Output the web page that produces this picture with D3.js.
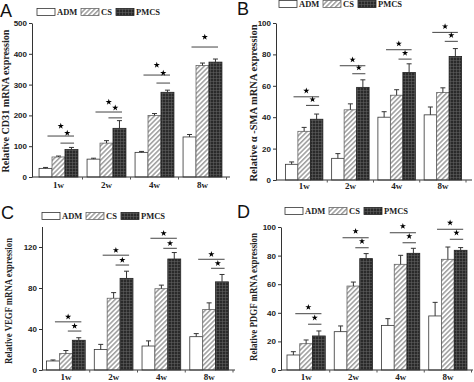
<!DOCTYPE html>
<html>
<head>
<meta charset="utf-8">
<script src="https://cdn.jsdelivr.net/npm/d3@7"></script>
<style>
body { margin: 0; background: #fff; }
</style>
</head>
<body>
<div id="root"></div>
<script>
var weeks = ["1w", "2w", "4w", "8w"];
var groups = ["ADM", "CS", "PMCS"];

// mean / error per group (ADM, CS, PMCS), one value per week
var cd31Mean = [[28, 58, 80, 130], [65, 110, 200, 362], [89, 158, 275, 373]];
var cd31Err  = [[3, 3, 3, 8], [3, 8, 6, 8], [7, 25, 7, 10]];
var smaMean  = [[10, 13.8, 40, 41.5], [31, 44.7, 54, 55.7], [38.7, 59, 68.5, 78.7]];
var smaErr   = [[1.5, 3, 3.5, 5], [2.5, 3.8, 3.5, 3], [3.3, 4.8, 5.5, 5]];
var vegfMean = [[8.8, 20, 23.4, 32.5], [16, 70, 79.3, 59], [29, 89.4, 108.3, 86]];
var vegfErr  = [[1, 5, 5, 3], [3, 5.5, 3.5, 6.5], [2.5, 7, 6.3, 7.2]];
var pdgfMean = [[10.5, 26.8, 31.2, 37.8], [18.4, 58.7, 73.9, 77.4], [23.8, 77.9, 81.6, 83.7]];
var pdgfErr  = [[2.3, 4, 4.7, 9.5], [2.6, 2.8, 6.3, 8.6], [3.5, 3.5, 3.5, 1.9]];

// significance brackets: [week index, from group, to group, height]
var cd31Sig = [[0, 0, 2, 133], [0, 1, 2, 110], [1, 0, 2, 211], [1, 1, 2, 192], [2, 0, 2, 331], [2, 1, 2, 305], [3, 0, 2, 422]];
var smaSig  = [[0, 0, 2, 53], [0, 1, 2, 47.5], [1, 0, 2, 72.8], [1, 1, 2, 67.7], [2, 0, 2, 83], [2, 1, 2, 77], [3, 0, 2, 94], [3, 1, 2, 88.3]];
var vegfSig = [[0, 0, 2, 47], [0, 1, 2, 38], [1, 0, 2, 112], [1, 1, 2, 102.4], [2, 0, 2, 128.5], [2, 1, 2, 118.7], [3, 0, 2, 108], [3, 1, 2, 99.2]];
var pdgfSig = [[0, 0, 2, 39.4], [0, 1, 2, 32], [1, 0, 2, 92.5], [1, 1, 2, 85.5], [2, 0, 2, 96], [2, 1, 2, 89], [3, 0, 2, 98.4], [3, 1, 2, 91.4]];

var cd31Ticks = [0, 100, 200, 300, 400, 500];
var smaTicks  = [0, 20, 40, 60, 80, 100];
var vegfTicks = [0, 40, 80, 120];
var pdgfTicks = [0, 20, 40, 60, 80, 100];

var panels = [
	{letter: "A", title: "Relative CD31 mRNA expression", mean: cd31Mean, err: cd31Err, sig: cd31Sig, ticks: cd31Ticks, max: 500,
	 left: 32, axisEnd: 230, band: [34.5, 226.5], base: 177, top: 23, starGap: 10,
	 letterPos: [0, 17], titleX: 8.5, titleY: 101, titleLen: 143, legendX: 37, legendY: 12, labelY: 188},
	{letter: "B", title: "Relative \u03b1 -SMA mRNA expression", mean: smaMean, err: smaErr, sig: smaSig, ticks: smaTicks, max: 100,
	 left: 276, axisEnd: 472, band: [281, 466], base: 180, top: 23, starGap: 6,
	 letterPos: [237, 15], titleX: 257, titleY: 103, titleLen: 157, legendX: 279, legendY: 4, labelY: 189},
	{letter: "C", title: "Relative VEGF mRNA expression", mean: vegfMean, err: vegfErr, sig: vegfSig, ticks: vegfTicks, max: 140,
	 left: 42, axisEnd: 235, band: [42, 233], base: 370, top: 226.5, starGap: 5,
	 letterPos: [1, 219], titleX: 12, titleY: 301, titleLen: 126, legendX: 42, legendY: 216, labelY: 379.5},
	{letter: "D", title: "Relative PDGF mRNA expression", mean: pdgfMean, err: pdgfErr, sig: pdgfSig, ticks: pdgfTicks, max: 100,
	 left: 281, axisEnd: 473, band: [282.5, 471.5], base: 370, top: 227, starGap: 6.5,
	 letterPos: [237, 218], titleX: 257, titleY: 297, titleLen: 128, legendX: 285, legendY: 211, labelY: 379.5}
];

var svg = d3.select("#root")
	.append("svg")
	.attr("width", 474)
	.attr("height", 382);

// fill patterns
var defs = svg.append("defs");

var hatch = defs.append("pattern")
	.attr("id", "hatch")
	.attr("patternUnits", "userSpaceOnUse")
	.attr("width", 3.4)
	.attr("height", 3.4)
	.attr("patternTransform", "rotate(45)");
hatch.append("rect").attr("width", 3.4).attr("height", 3.4).attr("fill", "#fff");
hatch.append("line")
	.attr("x1", 0.8).attr("y1", 0).attr("x2", 0.8).attr("y2", 3.4)
	.attr("stroke", "#777").attr("stroke-width", 1.1);

var grid = defs.append("pattern")
	.attr("id", "grid")
	.attr("patternUnits", "userSpaceOnUse")
	.attr("width", 3)
	.attr("height", 3);
grid.append("rect").attr("width", 3).attr("height", 3).attr("fill", "#2a2a2a");
grid.append("path")
	.attr("d", "M0 0.5H3M0.5 0V3")
	.attr("stroke", "#666")
	.attr("stroke-width", 0.5);

var fills = ["#fff", "url(#hatch)", "url(#grid)"];
var strokes = ["#333", "#666", "#222"];

var star = d3.symbol().type(d3.symbolStar).size(12);

panels.forEach(function (p) {
	var g = svg.append("g");

	var x = d3.scaleBand().domain(weeks).range(p.band).paddingInner(0).paddingOuter(0);
	var bw = x.bandwidth() * 0.27;
	var gx = function (w, k) { return x(weeks[w]) + (x.bandwidth() - 3 * bw) / 2 + k * bw; };

	var y = d3.scaleLinear().domain([0, p.max]).range([p.base, p.top]);

	// bars
	groups.forEach(function (name, k) {
		g.selectAll(null)
			.data(p.mean[k])
			.enter().append("rect")
			.attr("x", function (d, i) { return gx(i, k); })
			.attr("y", function (d) { return y(d); })
			.attr("width", bw)
			.attr("height", function (d) { return y(0) - y(d); })
			.attr("fill", fills[k])
			.attr("stroke", strokes[k])
			.attr("stroke-width", 0.8);

		// error bars (upper whisker only)
		var eb = g.selectAll(null)
			.data(p.mean[k])
			.enter().append("g")
			.attr("stroke", "#333")
			.attr("stroke-width", 1);
		eb.append("line")
			.attr("x1", function (d, i) { return gx(i, k) + bw / 2; })
			.attr("x2", function (d, i) { return gx(i, k) + bw / 2; })
			.attr("y1", function (d) { return y(d); })
			.attr("y2", function (d, i) { return y(d + p.err[k][i]); });
		eb.append("line")
			.attr("x1", function (d, i) { return gx(i, k) + bw / 2 - 2.5; })
			.attr("x2", function (d, i) { return gx(i, k) + bw / 2 + 2.5; })
			.attr("y1", function (d, i) { return y(d + p.err[k][i]); })
			.attr("y2", function (d, i) { return y(d + p.err[k][i]); });
	});

	// significance lines and stars
	var sx1 = function (s) { return gx(s[0], s[1]) + bw * 0.65; };
	var sx2 = function (s) { return gx(s[0], s[2]) + bw * 0.7; };
	g.selectAll(null)
		.data(p.sig)
		.enter().append("line")
		.attr("x1", sx1)
		.attr("x2", sx2)
		.attr("y1", function (s) { return y(s[3]); })
		.attr("y2", function (s) { return y(s[3]); })
		.attr("stroke", "#555")
		.attr("stroke-width", 1.1);
	g.selectAll(null)
		.data(p.sig)
		.enter().append("path")
		.attr("d", star)
		.attr("fill", "#000")
		.attr("transform", function (s) {
			return "translate(" + ((sx1(s) + sx2(s)) / 2) + "," + (y(s[3]) - p.starGap) + ")";
		});

	// y axis
	var yAxis = g.append("g")
		.attr("transform", "translate(" + p.left + ",0)")
		.call(d3.axisLeft(y).tickValues(p.ticks).tickSize(3).tickSizeOuter(0).tickPadding(2));
	yAxis.select(".domain").attr("stroke", "#333");
	yAxis.selectAll(".tick line").attr("stroke", "#333");
	yAxis.selectAll("text")
		.attr("font-family", "Liberation Sans, Arial, sans-serif")
		.attr("font-weight", "bold")
		.attr("font-size", 8)
		.attr("fill", "#222");

	// x axis: baseline, ticks between groups, labels
	g.append("line")
		.attr("x1", p.left).attr("x2", p.axisEnd)
		.attr("y1", p.base).attr("y2", p.base)
		.attr("stroke", "#333");
	g.selectAll(null)
		.data(weeks)
		.enter().append("line")
		.attr("x1", function (d) { return x(d) + x.bandwidth(); })
		.attr("x2", function (d) { return x(d) + x.bandwidth(); })
		.attr("y1", p.base).attr("y2", p.base + 2.5)
		.attr("stroke", "#555");
	g.selectAll(null)
		.data(weeks)
		.enter().append("text")
		.attr("x", function (d) { return x(d) + x.bandwidth() / 2; })
		.attr("y", p.labelY)
		.attr("text-anchor", "middle")
		.attr("font-family", "Liberation Serif, Times New Roman, serif")
		.attr("font-weight", "bold")
		.attr("font-size", 9)
		.attr("fill", "#222")
		.text(function (d) { return d; });

	// y title
	g.append("text")
		.attr("transform", "translate(" + p.titleX + "," + p.titleY + ") rotate(-90)")
		.attr("text-anchor", "middle")
		.attr("font-family", "Liberation Serif, Times New Roman, serif")
		.attr("font-weight", "bold")
		.attr("font-size", 9.5)
		.attr("textLength", p.titleLen)
		.attr("lengthAdjust", "spacingAndGlyphs")
		.attr("fill", "#222")
		.text(p.title);

	// panel letter
	g.append("text")
		.attr("x", p.letterPos[0])
		.attr("y", p.letterPos[1])
		.attr("font-family", "Liberation Sans, Arial, sans-serif")
		.attr("font-size", 18)
		.attr("fill", "#111")
		.text(p.letter);

	// legend
	var offsets = [0, 44, 79];
	var leg = g.selectAll(null)
		.data(groups)
		.enter().append("g")
		.attr("transform", function (d, k) { return "translate(" + (p.legendX + offsets[k]) + "," + p.legendY + ")"; });
	leg.append("rect")
		.attr("x", 0).attr("y", -3.5)
		.attr("width", 18).attr("height", 7)
		.attr("fill", function (d, k) { return fills[k]; })
		.attr("stroke", function (d, k) { return strokes[k]; })
		.attr("stroke-width", 0.8);
	leg.append("text")
		.attr("x", 20).attr("y", 3)
		.attr("font-family", "Liberation Serif, Times New Roman, serif")
		.attr("font-weight", "bold")
		.attr("font-size", 8.5)
		.attr("fill", "#222")
		.text(function (d) { return d; });
});
</script>
</body>
</html>
